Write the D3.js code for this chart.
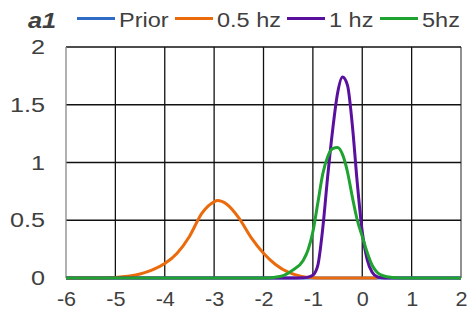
<!DOCTYPE html>
<html><head><meta charset="utf-8">
<script src="https://cdn.jsdelivr.net/npm/d3@7"></script>
<style>body{margin:0;background:#fff}svg{display:block}text{font-family:"Liberation Sans",Arial,sans-serif}</style>
</head><body><svg id="c" width="467" height="324"></svg>
<script>
const xTicks = [-6,-5,-4,-3,-2,-1,0,1,2];
const xTickLabels = ["-6","-5","-4","-3","-2","-1","0","1","2"];
const yTicks = [0,0.5,1,1.5,2];
const yTickLabels = ["0","0.5","1","1.5","2"];
const seriesNames = ["Prior","0.5 hz","1 hz","5hz"];
const seriesColors = ["#2e6cc7","#ea6a0c","#5a109e","#1ea230"];

const priorX = [-6,-4,-2,0,2];
const priorY = [0,0,0,0,0];
const halfHzX = [-6,-5.5,-5.25,-5,-4.75,-4.5,-4.25,-4,-3.75,-3.5,-3.25,-3,-2.93,-2.75,-2.5,-2.25,-2,-1.75,-1.5,-1.25,-1,-0.75,-0.5,0,0.3];
const halfHzY = [0,0,0.001,0.005,0.015,0.035,0.07,0.125,0.215,0.36,0.56,0.66,0.67,0.64,0.52,0.35,0.215,0.115,0.05,0.016,0.003,0,0,0,0];
const oneHzX = [-6,-2,-1.5,-1.2,-1.1,-1,-0.9,-0.8,-0.7,-0.6,-0.5,-0.4,-0.3,-0.2,-0.1,0,0.1,0.2,0.3,0.4,0.5,1,2];
const oneHzY = [0,0,0,0.002,0.008,0.025,0.11,0.43,0.88,1.28,1.6,1.74,1.67,1.32,0.82,0.4,0.16,0.05,0.012,0.002,0,0,0];
const fiveHzX = [-6,-2,-1.8,-1.6,-1.4,-1.2,-1.1,-1,-0.9,-0.8,-0.7,-0.6,-0.5,-0.4,-0.3,-0.2,-0.1,0,0.1,0.2,0.3,0.4,0.5,0.6,0.8,1,2];
const fiveHzY = [0,0,0.005,0.02,0.07,0.15,0.24,0.4,0.65,0.9,1.05,1.12,1.13,1.07,0.92,0.7,0.5,0.36,0.22,0.11,0.05,0.022,0.01,0.005,0.001,0,0];

const svg = d3.select("#c");
const L=66,R=461,T=47,B=278;
const x = d3.scaleLinear().domain([-6,2]).range([L,R]);
const y = d3.scaleLinear().domain([0,2]).range([B,T]);
const txt = "#404040";
const FF = "Liberation Sans, Arial, sans-serif";

// gridlines
svg.append("g").selectAll("line").data(xTicks.slice(1)).join("line")
  .attr("x1",d=>x(d)).attr("x2",d=>x(d)).attr("y1",T).attr("y2",B)
  .attr("stroke",d=>d===2?"#555":"#111").attr("stroke-width",1.3);
svg.append("g").selectAll("line").data(yTicks.slice(1)).join("line")
  .attr("x1",L).attr("x2",R).attr("y1",d=>y(d)).attr("y2",d=>y(d))
  .attr("stroke","#111").attr("stroke-width",1.3);
svg.append("line").attr("x1",L).attr("x2",L).attr("y1",T).attr("y2",B)
  .attr("stroke","#888").attr("stroke-width",1.3);
svg.append("line").attr("x1",L).attr("x2",R).attr("y1",B).attr("y2",B)
  .attr("stroke","#888").attr("stroke-width",1.3);

// axes labels
const xa = svg.append("g").attr("transform",`translate(0,${B})`)
  .call(d3.axisBottom(x).tickValues(xTicks).tickSize(0).tickPadding(14).tickFormat((d,i)=>xTickLabels[i]));
xa.select(".domain").remove();
xa.selectAll("text").attr("font-size",20).attr("fill",txt).attr("font-family",FF)
  .attr("transform","scale(1.08,1)");
const ya = svg.append("g").attr("transform",`translate(${L},0)`)
  .call(d3.axisLeft(y).tickValues(yTicks).tickSize(0).tickPadding(17.5).tickFormat((d,i)=>yTickLabels[i]));
ya.select(".domain").remove();
ya.selectAll("text").attr("font-size",21).attr("fill",txt).attr("font-family",FF)
  .attr("transform","scale(1.2,1)");

// series
const series = [
  {x:priorX,y:priorY},{x:halfHzX,y:halfHzY},{x:oneHzX,y:oneHzY},{x:fiveHzX,y:fiveHzY}
];
const line = d3.line().x(d=>x(d[0])).y(d=>y(d[1])).curve(d3.curveMonotoneX);
series.forEach((s,i)=>{
  svg.append("path").datum(s.x.map((v,j)=>[v,s.y[j]]))
    .attr("d",line).attr("fill","none").attr("stroke",seriesColors[i])
    .attr("stroke-width",3).attr("stroke-linejoin","round");
});

// title
svg.append("text").attr("transform","translate(28,28) scale(1.15,1)").attr("font-size",22).attr("font-style","italic")
  .attr("font-weight","bold").attr("fill",txt).text("a1");
// legend
const lgX = [77,175,287,380];
const lg = svg.append("g");
seriesNames.forEach((n,i)=>{
  lg.append("line").attr("x1",lgX[i]).attr("x2",lgX[i]+38).attr("y1",18.5).attr("y2",18.5)
    .attr("stroke",seriesColors[i]).attr("stroke-width",3);
  lg.append("text").attr("transform",`translate(${lgX[i]+42},27) scale(1.12,1)`).attr("font-size",21).attr("fill",txt).text(n);
});
</script></body></html>
